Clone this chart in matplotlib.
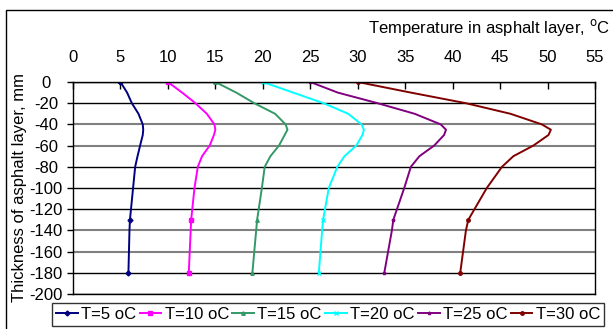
import matplotlib
matplotlib.use("Agg")
import matplotlib.pyplot as plt
from matplotlib.patches import Rectangle

plt.rcParams['font.family'] = ['Liberation Sans', 'DejaVu Sans']

# depth below surface, mm
depth = [0, -10, -20, -30, -40, -45, -50, -60, -70, -80, -100, -130, -140, -180]

t5 = [5.0, 5.7, 6.2, 6.9, 7.35, 7.4, 7.35, 7.07, 6.8, 6.55, 6.33, 6.0, 5.95, 5.84]
t10 = [10.0, 11.5, 12.9, 14.1, 14.9, 15.0, 14.85, 14.4, 13.6, 13.15, 12.8, 12.45, 12.4, 12.2]
t15 = [15.0, 17.2, 19.1, 21.3, 22.4, 22.6, 22.3, 21.7, 20.8, 20.2, 19.9, 19.4, 19.3, 18.9]
t20 = [20.0, 23.2, 26.4, 29.0, 30.4, 30.65, 30.5, 29.85, 28.6, 27.85, 26.95, 26.35, 26.25, 25.9]
t25 = [25.0, 27.9, 32.1, 36.0, 38.75, 39.3, 39.1, 38.05, 36.5, 35.6, 34.9, 33.75, 33.6, 32.8]
t30 = [30.0, 35.6, 41.4, 46.1, 49.4, 50.35, 50.1, 48.5, 46.4, 45.2, 43.6, 41.65, 41.4, 40.8]

series = [t5, t10, t15, t20, t25, t30]
labels = ["T=5 oC", "T=10 oC", "T=15 oC", "T=20 oC", "T=25 oC", "T=30 oC"]
colors = ["#000080", "#FF00FF", "#339966", "#00FFFF", "#800080", "#800000"]
markers = ["D", "s", "^", "x", "*", "o"]

x_ticks = list(range(0, 60, 5))
y_ticks = list(range(0, -220, -20))

FS = 12

fig = plt.figure(figsize=(6.13, 3.29), dpi=100)
ax = fig.add_axes([73 / 613, 1 - 294 / 329, (595 - 73) / 613, (294 - 82) / 329])

for vals, lab, col, mk in zip(series, labels, colors, markers):
    ax.plot(vals, depth, color=col, lw=1.4, marker=mk, markersize=2.5,
            markevery=[0, 11, 13], label=lab)

ax.set_xlim(0, 55)
ax.set_ylim(-200, 0)
ax.set_xticks(x_ticks)
ax.set_yticks(y_ticks, labels=[str(v) for v in y_ticks], ha='center')
ax.xaxis.tick_top()
ax.tick_params(axis='x', direction='in', length=5, width=1, labelsize=FS, pad=12)
ax.tick_params(axis='y', direction='out', length=4, width=1, labelsize=FS, pad=15.5)
ax.yaxis.grid(True, color='black', lw=1)
# some rules look grey/soft in the original rendering
for val, gl in zip(y_ticks, ax.get_ygridlines()):
    if val in (-40, -60, -140, -160):
        gl.set_color('#808080')
        gl.set_linewidth(1.5)
ax.set_axisbelow(True)
for sp in ax.spines.values():
    sp.set_linewidth(1)
    sp.set_color('black')

fig.text(20 / 613, 1 - 188 / 329, "Thickness of asphalt layer, mm",
         rotation=90, ha='center', va='center', fontsize=FS)
fig.text(610 / 613, 1 - 27 / 329, "Temperature in asphalt layer, $^{\\rm o}$C",
         ha='right', va='center', fontsize=FS)

# outer chart border
fig.patches.append(Rectangle((6 / 613, -0.1), 1.2, 1.1 - 10 / 329,
                             transform=fig.transFigure, fill=False,
                             edgecolor='black', lw=1))

leg = fig.legend(loc='upper left', bbox_to_anchor=(52 / 613, 1 - 303 / 329),
                 ncol=6, fontsize=FS, frameon=True, fancybox=False,
                 handlelength=1.3, handletextpad=0.2, columnspacing=0.2,
                 borderpad=0.25, borderaxespad=0)
leg.get_frame().set_edgecolor('black')
leg.get_frame().set_linewidth(1)

fig.savefig("out.png", dpi=100)
